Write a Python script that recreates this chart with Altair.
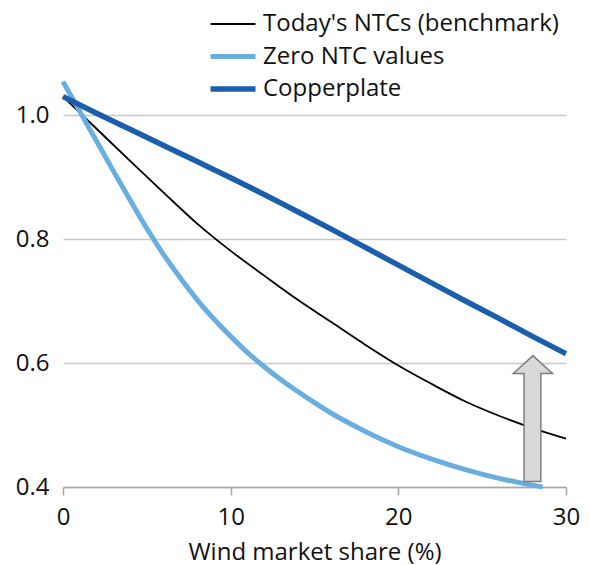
import altair as alt
import pandas as pd

series_names = ["Today's NTCs (benchmark)", "Zero NTC values", "Copperplate"]
series_colors = ["#000000", "#6AAEE0", "#1B5EAB"]
series_widths = [1.8, 5.0, 5.5]

today_x = [0, 2, 4, 6, 8, 10, 12, 14, 16, 18, 20, 22, 24, 26, 28, 30]
today_y = [1.03, 0.978, 0.926, 0.875, 0.825, 0.781, 0.741, 0.702, 0.666, 0.630,
           0.596, 0.566, 0.538, 0.515, 0.495, 0.478]

zero_x = [0, 1, 2, 3, 4, 5, 6, 7, 8, 9, 10, 11, 12, 13, 14, 15, 16, 17, 18, 19, 20,
          22, 24, 26, 28, 28.6]
zero_y = [1.054, 1.006, 0.958, 0.910, 0.863, 0.817, 0.775, 0.737, 0.702, 0.671, 0.643,
          0.617, 0.594, 0.573, 0.554, 0.536, 0.519, 0.504, 0.490, 0.477, 0.465,
          0.445, 0.428, 0.414, 0.403, 0.400]

copper_x = [0, 2, 4, 6, 8, 10, 12, 14, 16, 18, 20, 22, 24, 26, 28, 30]
copper_y = [1.03, 1.003, 0.977, 0.951, 0.925, 0.899, 0.872, 0.844, 0.816, 0.787,
            0.758, 0.729, 0.700, 0.672, 0.643, 0.615]

arrow_x = [26.85, 27.499, 27.501, 28.03, 28.499, 28.501, 29.2]
arrow_top = [0.583, 0.599, 0.599, 0.612, 0.600, 0.600, 0.583]
arrow_bottom = [0.583, 0.583, 0.409, 0.409, 0.409, 0.583, 0.583]

x_ticks = [0, 10, 20, 30]
y_ticks = [0.4, 0.6, 0.8, 1.0]

rows = []
for name, xs, ys in [(series_names[0], today_x, today_y),
                     (series_names[1], zero_x, zero_y),
                     (series_names[2], copper_x, copper_y)]:
    for xv, yv in zip(xs, ys):
        rows.append({"share": xv, "value": yv, "series": name})
df = pd.DataFrame(rows)

arrow_df = pd.DataFrame({"share": arrow_x, "top": arrow_top, "bottom": arrow_bottom})

FONT = "Open Sans"
FS = 24
TXT = "#111111"

x_scale = alt.Scale(domain=[0, 30], nice=False, zero=False)
y_scale = alt.Scale(domain=[0.4, 1.055], nice=False, zero=False)

legend = alt.Legend(
    title=None, orient="none", legendX=158, legendY=-69,
    symbolType="M-3,0H3", symbolSize=225, labelOffset=18,
    labelFontSize=FS, labelFont=FONT, labelColor=TXT,
    rowPadding=8.5, padding=0, labelLimit=400,
)

lines = alt.Chart(df).mark_line(interpolate="monotone").encode(
    x=alt.X("share:Q", scale=x_scale,
            axis=alt.Axis(values=x_ticks, title="Wind market share (%)", grid=False,
                          domainColor="#A6A6A6", domainWidth=1.5, tickColor="#A6A6A6",
                          tickWidth=1.5, tickSize=8, labelPadding=10,
                          labelFontSize=FS, labelFont=FONT, labelColor=TXT,
                          titleFontSize=FS, titleFont=FONT, titleFontWeight="normal",
                          titleColor=TXT, titlePadding=11, labelFlush=False)),
    y=alt.Y("value:Q", scale=y_scale,
            axis=alt.Axis(values=y_ticks, title=None, format=".1f", grid=True,
                          gridColor="#C8C8C8", gridWidth=1.5, domain=False, ticks=False,
                          labelPadding=14, labelFontSize=FS, labelFont=FONT,
                          labelColor=TXT)),
    color=alt.Color("series:N", scale=alt.Scale(domain=series_names, range=series_colors),
                    legend=legend),
    strokeWidth=alt.StrokeWidth("series:N",
                                scale=alt.Scale(type="ordinal", domain=series_names,
                                                range=series_widths),
                                legend=legend),
    detail="series:N",
)

arrow = alt.Chart(arrow_df).mark_area(
    orient="vertical", fill="#D9D9D9", stroke="#7F7F7F", strokeWidth=1.5,
    strokeJoin="miter", fillOpacity=1
).encode(
    x=alt.X("share:Q", scale=x_scale),
    y=alt.Y("top:Q", scale=y_scale),
    y2="bottom:Q",
)

chart = alt.layer(lines, arrow).properties(
    width=503, height=406,
    autosize=alt.AutoSizeParams(type="none"),
    padding={"left": 55, "top": 73, "right": 16, "bottom": 78},
).configure_view(stroke=None)

chart.save("out.html", embed_options={"renderer": "svg", "actions": False})
